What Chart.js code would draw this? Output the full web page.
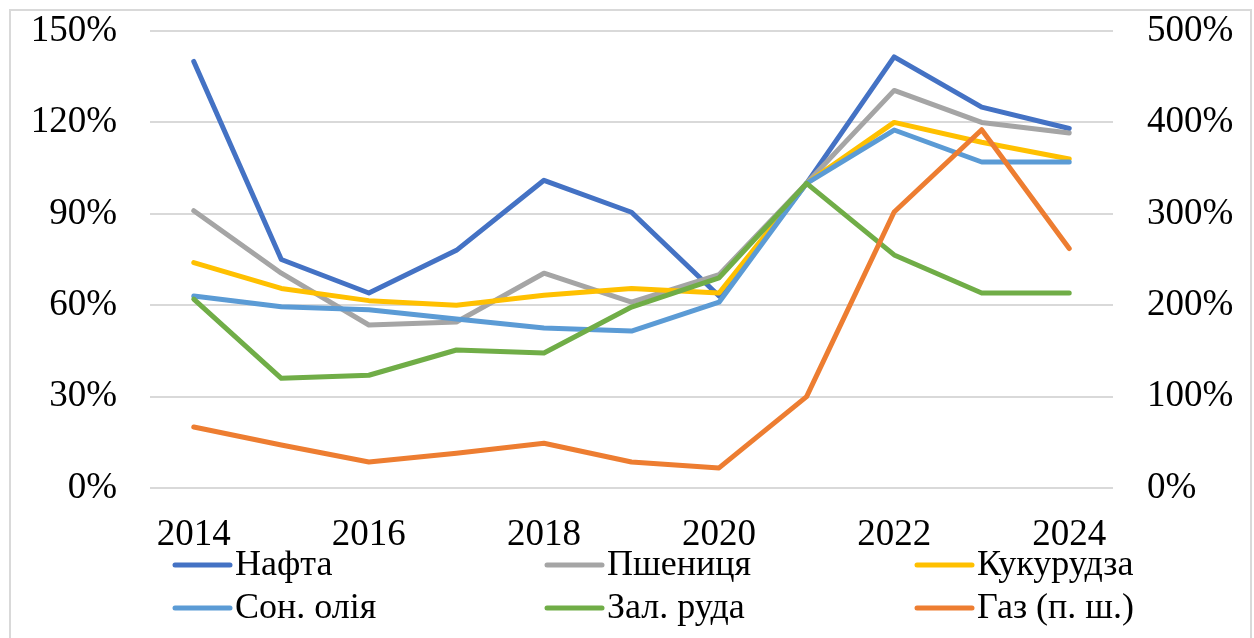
<!DOCTYPE html>
<html>
<head>
<meta charset="utf-8">
<script src="https://cdn.jsdelivr.net/npm/chart.js@4.4.1/dist/chart.umd.min.js"></script>
<style>
  html, body { margin: 0; padding: 0; background: #fff; }
  #wrap { position: relative; width: 1254px; height: 638px; overflow: hidden; }
  #frame { position: absolute; left: 9px; top: 9px; width: 1239px; height: 660px; border: 2px solid #d9d9d9; pointer-events: none; }
  canvas { position: absolute; left: 0; top: 0; }
</style>
</head>
<body>
<div id="wrap">
  <canvas id="c" width="1254" height="638"></canvas>
  <div id="frame"></div>
</div>
<script>
const years = ["2014", "2015", "2016", "2017", "2018", "2019", "2020", "2021", "2022", "2023", "2024"];

// left axis, %
const oil    = [140, 75, 64, 78, 101, 90.5, 63, 100, 141.5, 125, 118];
const wheat  = [91, 70.5, 53.5, 54.5, 70.5, 61, 70, 100, 130.5, 120, 116.5];
const corn   = [74, 65.5, 61.5, 60, 63.3, 65.5, 64, 100, 120, 113.5, 108];
const sunoil = [63, 59.5, 58.5, 55.5, 52.5, 51.5, 61, 100, 117.5, 107, 107];
const ore    = [62, 36, 37, 45.3, 44.3, 59.4, 69, 100, 76.5, 64, 64];
// right axis, %
const gas    = [66.7, 47, 28.4, 38, 49, 28.4, 22, 100, 302, 392, 262];

const names = ["Нафта", "Пшениця", "Кукурудза", "Сон. олія", "Зал. руда", "Газ (п. ш.)"];
const colors = ["#4472C4", "#A5A5A5", "#FFC000", "#5B9BD5", "#70AD47", "#ED7D31"];

const serif = "'Liberation Serif', 'Times New Roman', serif";

function line(i, data, axis) {
  return {
    label: names[i],
    data,
    yAxisID: axis,
    borderColor: colors[i],
    backgroundColor: colors[i],
    borderWidth: 5,
    pointRadius: 0,
    tension: 0,
    borderJoinStyle: "round",
    borderCapStyle: "round",
    order: 6 - i, // later series on top, like the original
  };
}

// legend in a fixed 3x2 grid under the axis
const gridLegend = {
  id: "gridLegend",
  afterDraw(chart) {
    const { ctx, chartArea } = chart;
    const colX = [chartArea.left + 25, chartArea.left + 397, chartArea.left + 767];
    const rowY = [chartArea.bottom + 77, chartArea.bottom + 120];
    ctx.save();
    ctx.font = "36px " + serif;
    ctx.textBaseline = "middle";
    ctx.fillStyle = "#000";
    chart.data.datasets.forEach((ds, i) => {
      const x = colX[i % 3];
      const y = rowY[Math.floor(i / 3)];
      ctx.strokeStyle = ds.borderColor;
      ctx.lineWidth = 5;
      ctx.lineCap = "round";
      ctx.beginPath();
      ctx.moveTo(x, y);
      ctx.lineTo(x + 55, y);
      ctx.stroke();
      ctx.fillText(ds.label, x + 60, y + 1);
    });
    ctx.restore();
  },
};

new Chart(document.getElementById("c"), {
  type: "line",
  data: {
    labels: years,
    datasets: [
      line(0, oil, "y"),
      line(1, wheat, "y"),
      line(2, corn, "y"),
      line(3, sunoil, "y"),
      line(4, ore, "y"),
      line(5, gas, "y2"),
    ],
  },
  options: {
    responsive: false,
    animation: false,
    events: [],
    layout: { padding: { top: 31, left: 0, right: 0, bottom: 0 } },
    plugins: { legend: { display: false }, tooltip: { enabled: false } },
    scales: {
      x: {
        offset: true,
        grid: { display: false, drawTicks: false },
        border: { display: false },
        ticks: {
          autoSkip: false,
          maxRotation: 0,
          padding: 25,
          color: "#000",
          font: { family: serif, size: 37 },
          callback: (v, i) => (i % 2 === 0 ? years[i] : ""),
        },
        afterFit: (s) => { s.height = 150; },
      },
      y: {
        position: "left",
        min: 0,
        max: 150,
        // invisible tick marks give the gap between labels and plot
        grid: { color: "#d9d9d9", lineWidth: 2, drawTicks: true, tickLength: 33, tickColor: "rgba(0,0,0,0)" },
        border: { display: false },
        ticks: {
          stepSize: 30,
          padding: 0,
          color: "#000",
          font: { family: serif, size: 37 },
          callback: (v) => v + "%",
        },
        afterFit: (s) => { s.width = 150; },
      },
      y2: {
        position: "right",
        min: 0,
        max: 500,
        grid: { display: true, drawOnChartArea: false, drawTicks: true, tickLength: 34, tickColor: "rgba(0,0,0,0)" },
        border: { display: false },
        ticks: {
          stepSize: 100,
          padding: 0,
          color: "#000",
          font: { family: serif, size: 37 },
          callback: (v) => v + "%",
        },
        afterFit: (s) => { s.width = 141; },
      },
    },
  },
  plugins: [gridLegend],
});
</script>
</body>
</html>
